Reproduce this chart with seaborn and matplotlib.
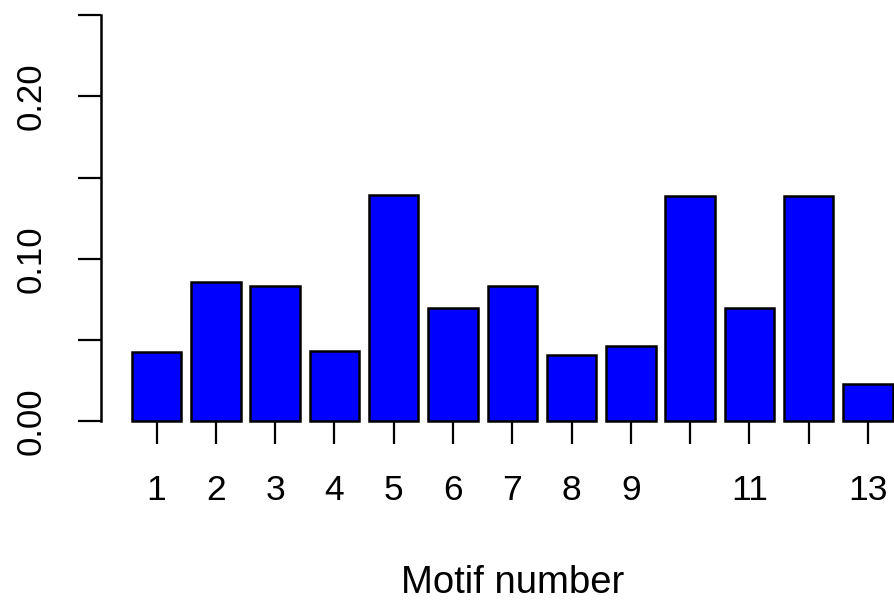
import matplotlib
matplotlib.use("Agg")
import matplotlib.pyplot as plt
import seaborn as sns
import pandas as pd

# Relative frequency of each motif
motifs = [str(i) for i in range(1, 14)]
frequency = [0.0426, 0.0856, 0.0831, 0.0432, 0.1393, 0.0698, 0.0833,
             0.0409, 0.0466, 0.1387, 0.0698, 0.1389, 0.0232]
# labels 10 and 12 are dropped where they would crowd their neighbours
tick_labels = ["1", "2", "3", "4", "5", "6", "7", "8", "9", "", "11", "", "13"]
y_ticks = [0.00, 0.05, 0.10, 0.15, 0.20, 0.25]
y_tick_labels = ["0.00", "", "0.10", "", "0.20", ""]

sns.set_theme(style="white")
plt.rcParams["font.family"] = ["Liberation Sans", "DejaVu Sans"]

df = pd.DataFrame({"motif": motifs, "frequency": frequency})

fig = plt.figure(figsize=(8.95, 6.01), dpi=100)
ax = fig.add_axes([0.1134, 0.2987, 0.918, 0.6763])

sns.barplot(data=df, x="motif", y="frequency", order=motifs, color="#0000ff",
            saturation=1, edgecolor="black", linewidth=1.8, width=1 / 1.2, ax=ax)
for p in ax.patches:
    p.set_clip_on(False)

ax.set_xlim(-0.93, 12.93)
ax.set_ylim(0, 0.25)

for side in ("top", "right", "bottom"):
    ax.spines[side].set_visible(False)
ax.spines["left"].set_color("black")
ax.spines["left"].set_linewidth(1.8)

ax.set_xticks(range(len(motifs)))
ax.set_xticklabels(tick_labels, fontsize=25.5)
ax.set_yticks(y_ticks)
ax.set_yticklabels(y_tick_labels, fontsize=25, rotation=90, va="center")

ax.tick_params(axis="x", direction="out", length=16.5, width=1.6, pad=21.5,
               colors="black", bottom=True)
ax.tick_params(axis="y", direction="out", length=16.5, width=1.6, pad=22,
               colors="black", left=True)

ax.set_xlabel("Motif number", fontsize=27.5, color="black")
ax.xaxis.set_label_coords(0.5, -0.421)
ax.xaxis.label.set_va("baseline")
ax.set_ylabel("")
ax.grid(False)

fig.savefig("out.png", dpi=100)
